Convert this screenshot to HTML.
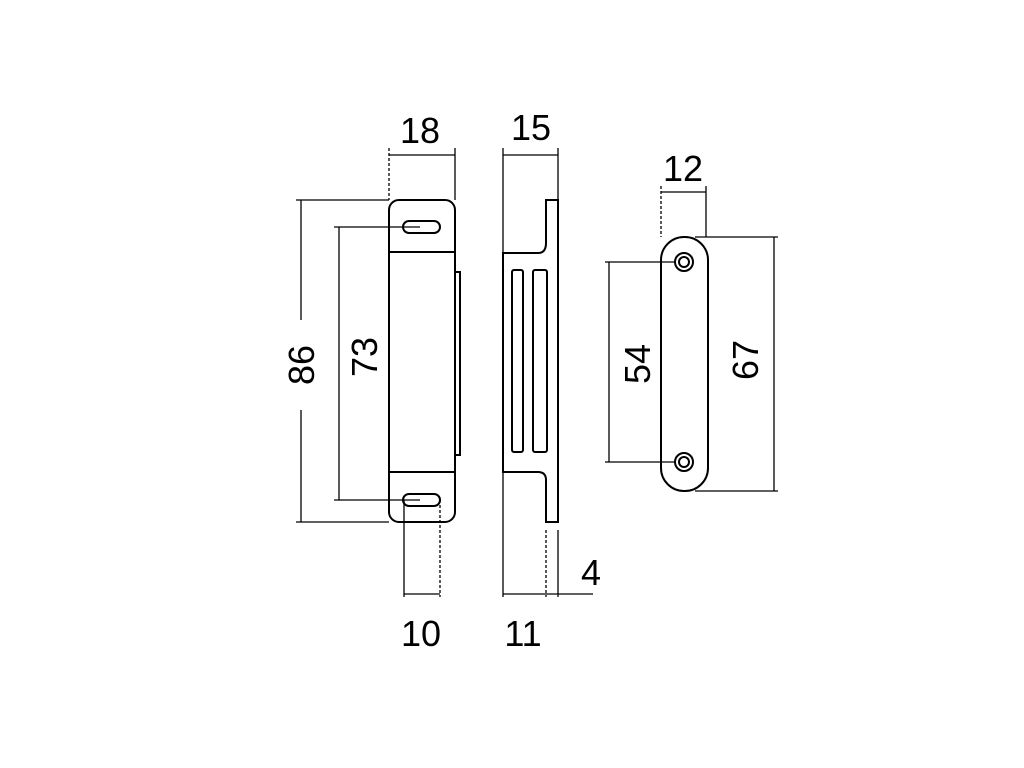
<!DOCTYPE html>
<html><head><style>body{margin:0;background:#fff}svg{display:block}</style></head><body>
<svg width="1024" height="768" viewBox="0 0 1024 768" xmlns="http://www.w3.org/2000/svg" font-family="Liberation Sans, sans-serif" fill="none" stroke="#000">
<g stroke-width="2">
<rect x="389" y="200" width="66" height="322" rx="10"/>
<line x1="389" y1="252" x2="455" y2="252"/>
<line x1="389" y1="472" x2="455" y2="472"/>
<path d="M455 272 H460 V455 H455"/>
<rect x="403" y="221" width="37" height="12" rx="6"/>
<rect x="403" y="494" width="37" height="12" rx="6"/>
<path d="M503 253 H538 Q546 253 546 243 V200 H558 V522 H546 V480 Q546 472 538 472 H503 Z"/>
<rect x="512" y="270" width="11" height="182" rx="2"/>
<rect x="533" y="270" width="14" height="182" rx="2"/>
<rect x="661" y="237" width="47" height="254" rx="23"/>
<circle cx="684" cy="262" r="9"/><circle cx="684" cy="262" r="5"/>
<circle cx="684" cy="462" r="9"/><circle cx="684" cy="462" r="5"/>
</g>
<g stroke-width="1.3">
<line x1="389" y1="148" x2="389" y2="200" stroke-dasharray="3 2"/><line x1="455" y1="148" x2="455" y2="200"/>
<line x1="389" y1="155" x2="455" y2="155"/>
<line x1="503" y1="148" x2="503" y2="253"/><line x1="558" y1="148" x2="558" y2="200"/>
<line x1="503" y1="155" x2="558" y2="155"/>
<line x1="296" y1="200" x2="389" y2="200"/><line x1="296" y1="522" x2="389" y2="522"/>
<line x1="301" y1="200" x2="301" y2="320"/><line x1="301" y1="410" x2="301" y2="522"/>
<line x1="334" y1="227" x2="420" y2="227"/><line x1="334" y1="500" x2="420" y2="500"/>
<line x1="339" y1="227" x2="339" y2="500"/>
<line x1="404" y1="500" x2="404" y2="597"/><line x1="440" y1="500" x2="440" y2="597" stroke-dasharray="3 2"/>
<line x1="404" y1="594" x2="440" y2="594"/>
<line x1="503" y1="472" x2="503" y2="597"/>
<line x1="546" y1="530" x2="546" y2="597" stroke-dasharray="3 2"/>
<line x1="558" y1="530" x2="558" y2="597"/>
<line x1="503" y1="594" x2="593" y2="594"/>
<line x1="661" y1="186" x2="661" y2="237" stroke-dasharray="3 2"/><line x1="706" y1="186" x2="706" y2="237"/>
<line x1="661" y1="192" x2="706" y2="192"/>
<line x1="605" y1="262" x2="675" y2="262"/><line x1="605" y1="462" x2="675" y2="462"/>
<line x1="609" y1="262" x2="609" y2="462"/>
<line x1="695" y1="237" x2="778" y2="237"/><line x1="695" y1="491" x2="778" y2="491"/>
<line x1="774" y1="237" x2="774" y2="491"/>
</g>
<g fill="#000" stroke="none" font-size="36" text-anchor="middle">
<text x="420" y="143">18</text>
<text x="531" y="140">15</text>
<text x="683" y="181">12</text>
<text x="421" y="646">10</text>
<text x="523" y="646">11</text>
<text x="591" y="585">4</text>
<text transform="translate(314,365) rotate(-90)">86</text>
<text transform="translate(377,357) rotate(-90)">73</text>
<text transform="translate(650,364) rotate(-90)">54</text>
<text transform="translate(758,360) rotate(-90)">67</text>
</g>
</svg>
</body></html>
